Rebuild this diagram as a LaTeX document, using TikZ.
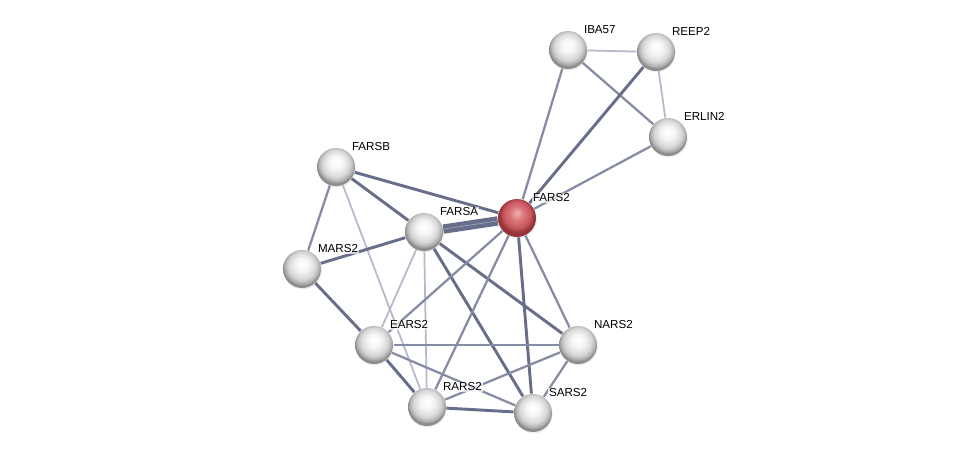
\documentclass[tikz,border=0pt]{standalone}
\usepackage{fontspec}
\setmainfont{Liberation Sans}
\usetikzlibrary{backgrounds,shadows}

\definecolor{redhi}{RGB}{242,178,180}
\definecolor{redmid}{RGB}{220,118,122}
\definecolor{reddark}{RGB}{196,86,92}
\definecolor{rededge}{RGB}{150,52,58}
\pgfdeclareradialshading{greyball}{\pgfpoint{0bp}{7bp}}{color(0bp)=(white); color(9bp)=(white!96!black); color(18bp)=(white!84!black); color(23bp)=(white!68!black); color(25bp)=(white!55!black); color(50bp)=(white!55!black)}
\pgfdeclareradialshading{redball}{\pgfpoint{0bp}{7bp}}{color(0bp)=(redhi); color(9bp)=(redmid); color(18bp)=(reddark); color(23bp)=(rededge); color(25bp)=(rededge); color(50bp)=(rededge)}

\tikzset{every picture/.style={line width=0.75pt}}
\tikzset{
  protein/.style={circle, minimum size=28.5pt, inner sep=0pt, shade, shading=greyball,
    drop shadow={opacity=0.15, shadow xshift=0.6pt, shadow yshift=-1pt}},
  query/.style={protein, shading=redball},
  lbl/.style={font=\fontsize{8.7}{10}\selectfont, inner sep=0.6pt, label distance=1pt, fill=white, fill opacity=0.7, text opacity=1},
  strong/.style={line width=2.2pt, draw={rgb,255:red,104;green,110;blue,138}},
  mid/.style={line width=1.7pt, draw={rgb,255:red,134;green,140;blue,164}},
  weak/.style={line width=1.3pt, draw={rgb,255:red,180;green,184;blue,202}},
  twin/.style={line width=3.2pt, draw={rgb,255:red,104;green,110;blue,138}, double={rgb,255:red,150;green,156;blue,180}, double distance=0.6pt}
}

\begin{document}
\begin{tikzpicture}[x=0.75pt,y=0.75pt,yscale=-1,xscale=1]
        \useasboundingbox (0,0) rectangle (975,458);

        % Proteins
        \node [protein, label={[lbl]north east:IBA57}] (iba57) at (568,50) {};
        \node [protein, label={[lbl]north east:REEP2}] (reep2) at (656,52) {};
        \node [protein, label={[lbl]north east:ERLIN2}] (erlin2) at (668,137) {};
        \node [protein, label={[lbl]north east:FARSB}] (farsb) at (336,167) {};
        \node [query, label={[lbl]north east:FARS2}] (fars2) at (517,218) {};
        \node [protein, label={[lbl]north east:FARSA}] (farsa) at (424,232) {};
        \node [protein, label={[lbl]north east:MARS2}] (mars2) at (302,269) {};
        \node [protein, label={[lbl]north east:EARS2}] (ears2) at (374,345) {};
        \node [protein, label={[lbl]north east:NARS2}] (nars2) at (578,345) {};
        \node [protein, label={[lbl]north east:RARS2}] (rars2) at (427,407) {};
        \node [protein, label={[lbl]north east:SARS2}] (sars2) at (533,413) {};

        % Interactions
        \begin{pgfonlayer}{background}
        \draw [weak] (iba57) -- (reep2);
        \draw [mid] (iba57) -- (erlin2);
        \draw [mid] (iba57) -- (fars2);
        \draw [weak] (reep2) -- (erlin2);
        \draw [strong] (reep2) -- (fars2);
        \draw [mid] (erlin2) -- (fars2);

        \draw [strong] (farsb) -- (fars2);
        \draw [strong] (farsb) -- (farsa);
        \draw [mid] (farsb) -- (mars2);
        \draw [weak] (farsb) -- (rars2);

        \draw [twin] (farsa) -- (fars2);
        \draw [strong] (farsa) -- (mars2);
        \draw [weak] (farsa) -- (ears2);
        \draw [weak] (farsa) -- (rars2);
        \draw [strong] (farsa) -- (sars2);
        \draw [strong] (farsa) -- (nars2);

        \draw [mid] (fars2) -- (ears2);
        \draw [mid] (fars2) -- (rars2);
        \draw [strong] (fars2) -- (sars2);
        \draw [mid] (fars2) -- (nars2);

        \draw [strong] (mars2) -- (ears2);
        \draw [strong] (ears2) -- (rars2);
        \draw [mid] (ears2) -- (nars2);
        \draw [mid] (ears2) -- (sars2);
        \draw [mid] (rars2) -- (nars2);
        \draw [strong] (rars2) -- (sars2);
        \draw [mid] (sars2) -- (nars2);
        \end{pgfonlayer}

    \end{tikzpicture}
\end{document}
